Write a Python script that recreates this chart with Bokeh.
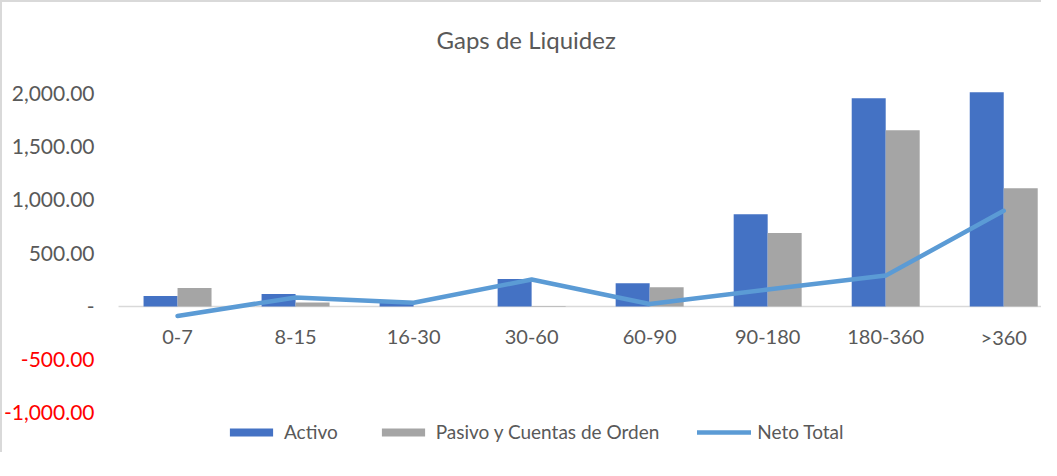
from bokeh.plotting import figure
from bokeh.models import Range1d, Legend, LegendItem, ColumnDataSource
from bokeh.core.properties import value
from bokeh.embed import file_html
from bokeh.resources import INLINE

# ---- data ----
categories = ["0-7", "8-15", "16-30", "30-60", "60-90", "90-180", "180-360", ">360"]
activo = [99, 117, 35, 258, 219, 866, 1956, 2012]
pasivo = [174, 38, 0, 5, 181, 690, 1655, 1111]
neto = [-89, 85, 35, 253, 23, 160, 290, 898]
y_ticks = [-1000, -500, 0, 500, 1000, 1500, 2000]

FONT = "Lato"
GRAY = "#595959"
RED = "#FF0000"

idx = list(range(len(categories)))
bar_w = 0.288
src = ColumnDataSource(dict(
    x_a=[i - bar_w / 2 for i in idx],
    x_p=[i + bar_w / 2 for i in idx],
    x=idx, cat=categories, activo=activo, pasivo=pasivo, neto=neto,
    zero=[0] * len(idx),
))

# plot-area edges (category units)
X0 = -0.5          # left edge of the plotting area
XL = -1.5          # room for value labels
XE = 7.32

def fmt(v):
    return "-" if v == 0 else f"{v:,.2f}"

tick_src = ColumnDataSource(dict(
    x=[X0] * len(y_ticks), y=y_ticks,
    label=[fmt(v) for v in y_ticks],
    color=[RED if v < 0 else GRAY for v in y_ticks],
))

p = figure(width=1041, height=452, output_backend="svg", toolbar_location=None,
           title="Gaps de Liquidez",
           x_range=Range1d(XL, XE), y_range=Range1d(-1371, 2197),
           min_border_left=0, min_border_right=0, min_border_top=72,
           min_border_bottom=0)
p.border_fill_color = None
p.background_fill_color = None
p.outline_line_color = None
p.styles = {"box-shadow": "inset 2px 2px 0 0 #D9D9D9"}

p.title.text_font = FONT
p.title.text_font_size = "24px"
p.title.text_font_style = "normal"
p.title.text_color = GRAY
p.title.align = "left"
p.title.offset = 436
p.title.standoff = 37

p.xaxis.visible = False
p.yaxis.visible = False
p.grid.visible = False

# value-axis labels
p.text(x="x", y="y", text="label", source=tick_src, x_offset=-24,
       text_align="right", text_baseline="middle", text_font=value(FONT),
       text_font_size="21px", text_color="color")

# zero baseline
p.segment(x0=X0, y0=0, x1=XE, y1=0, line_color="#D9D9D9", line_width=1.5)

r_a = p.vbar(x="x_a", top="activo", bottom=0, width=bar_w, source=src,
             fill_color="#4472C4", line_color=None)
r_p = p.vbar(x="x_p", top="pasivo", bottom=0, width=bar_w, source=src,
             fill_color="#A5A5A5", line_color=None)
r_n = p.line(x="x", y="neto", source=src, line_color="#5B9BD5", line_width=4.5,
             line_cap="round", line_join="round")

# category labels
p.text(x="x", y="zero", text="cat", source=src, y_offset=31,
       text_align="center", text_baseline="middle", text_font=value(FONT),
       text_font_size="20px", text_color=GRAY)

legend = Legend(items=[LegendItem(label="Activo", renderers=[r_a]),
                       LegendItem(label="Pasivo y Cuentas de Orden", renderers=[r_p]),
                       LegendItem(label="Neto Total", renderers=[r_n])],
                orientation="horizontal", location=(224, 9),
                padding=0, margin=0, spacing=38, label_standoff=6,
                glyph_width=54, glyph_height=10,
                border_line_color=None, background_fill_alpha=0,
                label_text_font=FONT, label_text_font_size="19px",
                label_text_color=GRAY)
p.add_layout(legend)

open("out.html", "w").write(file_html(p, INLINE))
